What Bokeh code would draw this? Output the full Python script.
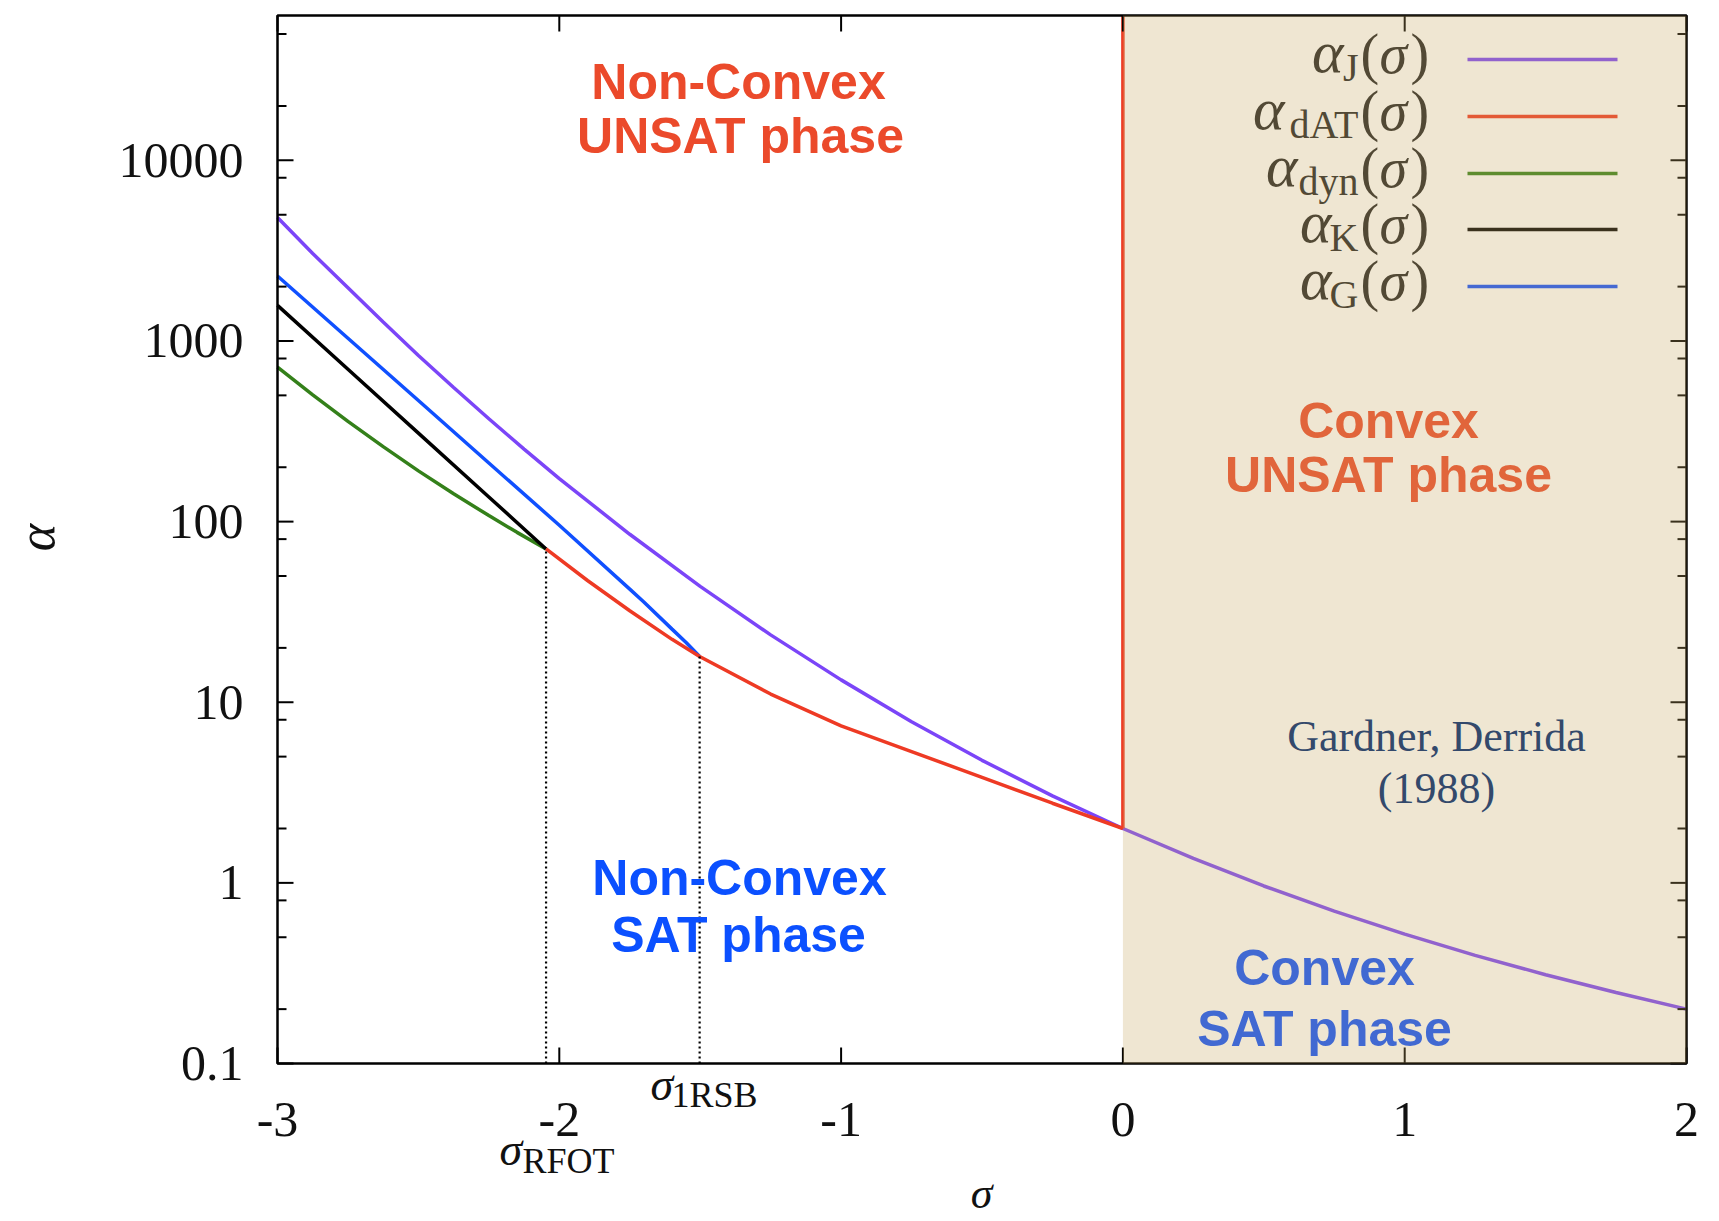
import math
from bokeh.plotting import figure
from bokeh.models import Range1d, Label, BoxAnnotation
from bokeh.embed import file_html
from bokeh.resources import INLINE

# ---------------- values ----------------
sigma_J = [-3.0, -2.875, -2.75, -2.625, -2.5, -2.375, -2.25, -2.125, -2.0, -1.75, -1.5, -1.25,
           -1.0, -0.75, -0.5, -0.25, 0.0, 0.25, 0.5, 0.75, 1.0, 1.25, 1.5, 1.75, 2.0]
alpha_J = [4830, 3050, 1970, 1274, 831, 553, 371, 252, 173, 85.1, 43.8, 23.6,
           13.3, 7.8, 4.77, 3.03, 2.0, 1.365, 0.961, 0.697, 0.52, 0.397, 0.31, 0.247, 0.2]

sigma_RFOT = -2.047
alpha_RFOT = 70.6
sigma_1RSB = -1.502
alpha_1RSB = 17.9

sigma_dAT = [sigma_RFOT, -1.9, -1.75, -1.6, sigma_1RSB, -1.25, -1.0, -0.75, -0.5, -0.25, 0.0]
alpha_dAT = [alpha_RFOT, 47.2, 32.1, 22.3, alpha_1RSB, 11.1, 7.4, 5.33, 3.84, 2.76, 2.0]

sigma_dyn = [-3.0, -2.875, -2.75, -2.625, -2.5, -2.375, -2.25, -2.15, sigma_RFOT]
alpha_dyn = [716, 503, 359, 260, 191, 142.6, 108, 87.2, alpha_RFOT]

sigma_K = [-3.0, -2.75, -2.5, -2.25, sigma_RFOT]
alpha_K = [1575, 698, 309, 137, alpha_RFOT]

sigma_G = [-3.0, -2.75, -2.5, -2.25, -2.0, -1.75, -1.7, -1.6, -1.55, sigma_1RSB]
alpha_G = [2290, 1035, 468, 211, 95.5, 42.3, 35.9, 25.4, 21.4, alpha_1RSB]

x_ticks = [-3, -2, -1, 0, 1, 2]
x_tick_labels = ["-3", "-2", "-1", "0", "1", "2"]
y_ticks = [0.1, 1, 10, 100, 1000, 10000]
y_tick_labels = ["0.1", "1", "10", "100", "1000", "10000"]
y_minor_mult = [2, 5, 8]

legend_subs = ["J", "dAT", "dyn", "K", "G"]

# ---------------- styling / layout ----------------
C_J = "#7B45F8"
C_DAT = "#EE3A24"
C_DYN = "#34801A"
C_K = "#000000"
C_G = "#1050FF"
legend_colors = [C_J, C_DAT, C_DYN, C_K, C_G]

W, H = 1719, 1221
L, R, T, B = 277, 1686, 15, 1063          # plot box in canvas pixels
X0, X1 = -3.0, 2.0
LY0, LY1 = -1.0, 4.802
Y_BOT = 10 ** LY0
Y_TOP = 10 ** LY1
MID = 0.3375  # em-box middle above the baseline


def dx(px):
    return X0 + (px - L) / (R - L) * (X1 - X0)


def dy(py):
    return 10 ** (LY0 + (B - py) / (B - T) * (LY1 - LY0))


SERIF = "Liberation Serif"
SANS = "Liberation Sans"
TXT = "#111111"

# the frame covers the whole canvas; the axes box is drawn inside it
p = figure(width=W, height=H, x_range=Range1d(dx(0), dx(W)), y_range=Range1d(dy(H), dy(0)),
           y_axis_type="log", x_axis_location=None, y_axis_location=None, title=None,
           output_backend="svg", toolbar_location=None, min_border=0)
p.grid.visible = False
p.outline_line_color = None
p.background_fill_color = "white"
p.border_fill_color = "white"

y_minor = [m * 10.0 ** e for e in range(-1, 5) for m in y_minor_mult if m * 10.0 ** e < Y_TOP]

MAJ, MIN = 16, 9
TW = 2

# ---------------- curves ----------------
LW = 3.5
p.line(sigma_J, alpha_J, line_color=C_J, line_width=LW)
p.line(sigma_dyn, alpha_dyn, line_color=C_DYN, line_width=LW)
p.line(sigma_K, alpha_K, line_color=C_K, line_width=LW)
p.line(sigma_G, alpha_G, line_color=C_G, line_width=LW)
p.line(sigma_dAT, alpha_dAT, line_color=C_DAT, line_width=LW)
p.line([sigma_dAT[-1], sigma_dAT[-1]], [alpha_dAT[-1], Y_TOP], line_color=C_DAT, line_width=LW)

# dotted markers of the transitions
p.line([sigma_RFOT, sigma_RFOT], [Y_BOT, alpha_RFOT], line_color="black", line_width=2.2, line_dash="2 3")
p.line([sigma_1RSB, sigma_1RSB], [Y_BOT, alpha_1RSB], line_color="black", line_width=2.2, line_dash="2 3")

# ---------------- axes box, ticks ----------------
p.quad(left=[X0], right=[X1], bottom=[Y_BOT], top=[Y_TOP], fill_color=None,
       line_color="black", line_width=2.5)
nx, ny, nm = len(x_ticks), len(y_ticks), len(y_minor)
p.segment(x0=x_ticks, y0=[Y_BOT] * nx, x1=x_ticks, y1=[dy(B - MAJ)] * nx, line_color="black", line_width=TW)
p.segment(x0=x_ticks, y0=[Y_TOP] * nx, x1=x_ticks, y1=[dy(T + MAJ)] * nx, line_color="black", line_width=TW)
p.segment(x0=[X0] * ny, y0=y_ticks, x1=[dx(L + MAJ)] * ny, y1=y_ticks, line_color="black", line_width=TW)
p.segment(x0=[X1] * ny, y0=y_ticks, x1=[dx(R - MAJ)] * ny, y1=y_ticks, line_color="black", line_width=TW)
p.segment(x0=[X0] * nm, y0=y_minor, x1=[dx(L + MIN)] * nm, y1=y_minor, line_color="black", line_width=TW)
p.segment(x0=[X1] * nm, y0=y_minor, x1=[dx(R - MIN)] * nm, y1=y_minor, line_color="black", line_width=TW)


def lab(px, base, txt, size, align="left", font=SERIF, style="normal", color=TXT):
    """px = x pixel, base = pixel y of the text baseline, size in px."""
    p.add_layout(Label(x=dx(px), y=dy(base - MID * size), text=txt, text_align=align, text_baseline="middle",
                       text_font=font, text_font_style=style, text_font_size="%dpx" % size,
                       text_color=color))


# tick labels
for t, s in zip(x_ticks, x_tick_labels):
    p.add_layout(Label(x=t, y=dy(1136 - MID * 50), text=s, text_align="center", text_baseline="middle",
                       text_font=SERIF, text_font_size="50px", text_color=TXT))
for t, s in zip(y_ticks, y_tick_labels):
    p.add_layout(Label(x=dx(243), y=t, text=s, text_align="right", text_baseline="middle",
                       text_font=SERIF, text_font_size="50px", text_color=TXT))

# axis titles
lab(981, 1208, "σ", 44, align="center", style="italic")
p.add_layout(Label(x=dx(36), y=dy(537), text="α", angle=math.pi / 2, text_align="center",
                   text_baseline="middle", text_font=SERIF, text_font_style="italic",
                   text_font_size="52px", text_color=TXT))

# transition labels below the axis
lab(650, 1100, "σ", 46, style="italic")
lab(671, 1107, "1RSB", 36)
lab(499, 1165, "σ", 46, style="italic")
lab(522, 1173, "RFOT", 36)

# ---------------- legend (drawn by hand for subscripts) ----------------
row_y = [59, 116, 173, 229, 286]
alpha_right = [1343, 1284, 1297, 1331, 1331]
LEG_C = "#222222"
for yc, sub, col, ar in zip(row_y, legend_subs, legend_colors, alpha_right):
    p.line([dx(1467), dx(1617)], [dy(yc), dy(yc)], line_color=col, line_width=LW)
    base = yc + 13
    lab(ar, base, "α", 60, align="right", style="italic", color=LEG_C)
    lab(1358, base + 8, sub, 40, align="right", color=LEG_C)
    lab(1360, base, "(", 56, color=LEG_C)
    lab(1379, base, "σ", 56, style="italic", color=LEG_C)
    lab(1410, base, ")", 56, color=LEG_C)

# ---------------- phase labels ----------------
RED_T = "#EB4A2B"
BLUE_T = "#0B50FF"
for px, py, txt, col in [(738, 81, "Non-Convex", RED_T), (740, 135, "UNSAT phase", RED_T),
                         (1388, 420, "Convex", RED_T), (1388, 474, "UNSAT phase", RED_T),
                         (739, 877, "Non-Convex", BLUE_T), (738, 934, "SAT phase", BLUE_T),
                         (1324, 967, "Convex", BLUE_T), (1324, 1028, "SAT phase", BLUE_T)]:
    p.add_layout(Label(x=dx(px), y=dy(py), text=txt, text_align="center", text_baseline="middle",
                       text_font=SANS, text_font_style="bold", text_font_size="50px", text_color=col))

# ---------------- convex (σ ≥ 0) region tint ----------------
p.add_layout(BoxAnnotation(left=0, right=X1, bottom=Y_BOT, top=Y_TOP, fill_color="#C8AA64",
                           fill_alpha=0.29, line_color=None))

for txt, py in (("Gardner, Derrida", 736), ("(1988)", 788)):
    p.add_layout(Label(x=dx(1436), y=dy(py), text=txt, text_align="center", text_baseline="middle",
                       text_font=SERIF, text_font_size="44px", text_color="#33496B"))

open("out.html", "w").write(file_html(p, INLINE))
